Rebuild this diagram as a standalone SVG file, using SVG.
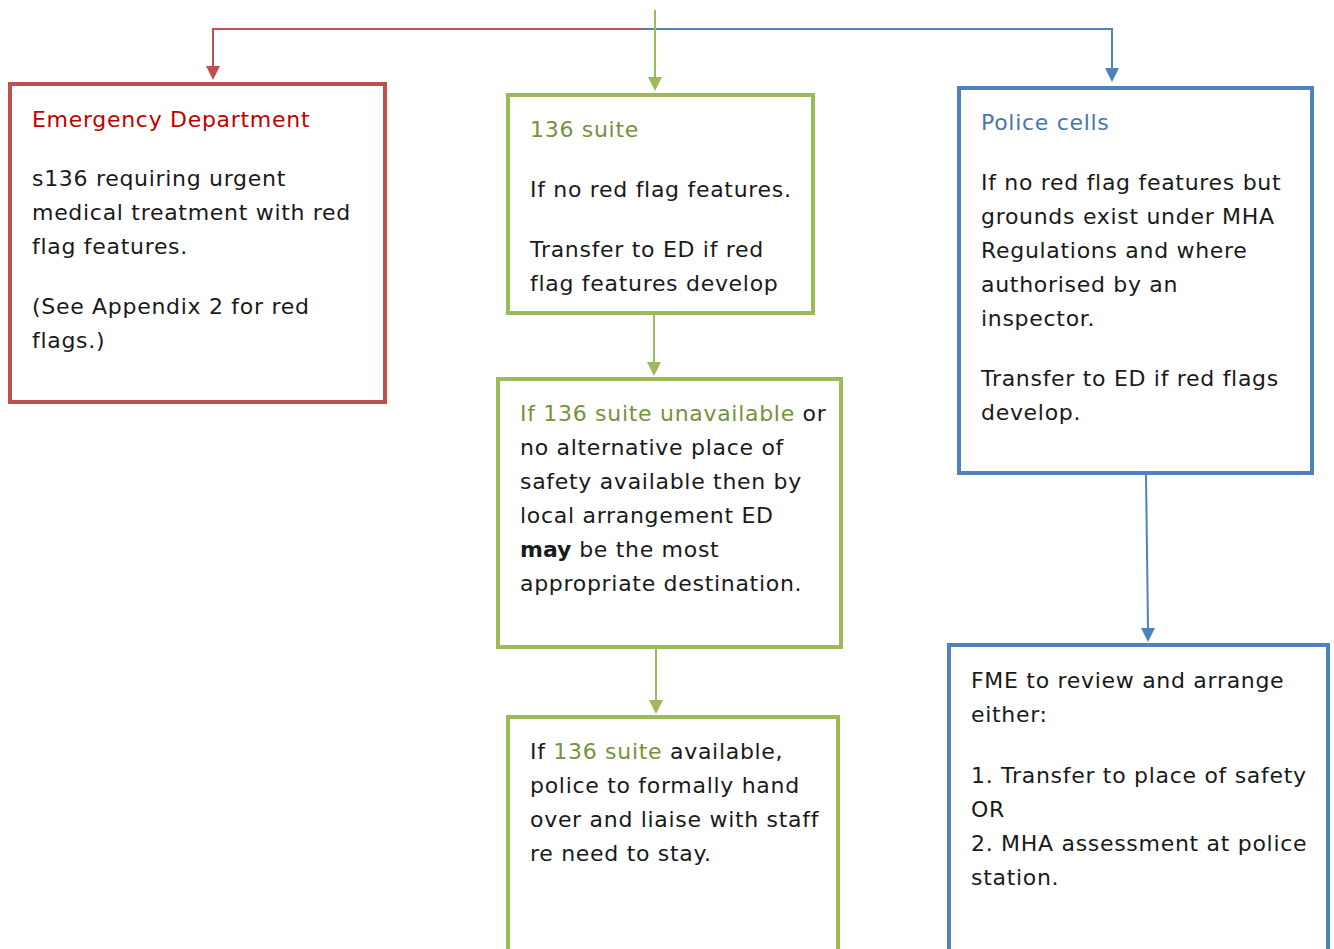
<svg xmlns="http://www.w3.org/2000/svg" width="1334" height="949" viewBox="0 0 1334 949">
<style>
.t{font-family:"DejaVu Sans","Liberation Sans",sans-serif;font-size:22px;letter-spacing:0.7px;fill:#1a1a1a}
.red{fill:#c00000}
.grn{fill:#76923c}
.blu{fill:#4a76b0}
.b{font-weight:bold;letter-spacing:0}
.box{fill:#fff;stroke-width:4}
</style>
<rect width="1334" height="949" fill="#fff"/>
<g id="connectors" fill="none" stroke-width="2">
<path d="M642,29 H213 V66" stroke="#c0504d"/>
<polygon points="206,66 220,66 213,80" fill="#c0504d" stroke="none"/>
<path d="M642,29 H1112 V68" stroke="#4f81bd"/>
<polygon points="1105,68 1119,68 1112,82" fill="#4f81bd" stroke="none"/>
<path d="M655,10 V78" stroke="#9bbb59"/>
<polygon points="648,77 662,77 655,91" fill="#9bbb59" stroke="none"/>
<path d="M654,313 V362" stroke="#9bbb59"/>
<polygon points="647,362 661,362 654,376" fill="#9bbb59" stroke="none"/>
<path d="M656,647 V700" stroke="#9bbb59"/>
<polygon points="649,700 663,700 656,714" fill="#9bbb59" stroke="none"/>
<path d="M1146,475 L1148,628" stroke="#4f81bd"/>
<polygon points="1141,628 1155,628 1148,642" fill="#4f81bd" stroke="none"/>
</g>
<g id="ed">
<rect class="box" x="10" y="84" width="375" height="318" stroke="#c0504d"/>
<text class="t red" x="32" y="127">Emergency Department</text>
<text class="t" x="32" y="186">s136 requiring urgent</text>
<text class="t" x="32" y="220">medical treatment with red</text>
<text class="t" x="32" y="254">flag features.</text>
<text class="t" x="32" y="314">(See Appendix 2 for red</text>
<text class="t" x="32" y="348">flags.)</text>
</g>
<g id="suite136">
<rect class="box" x="508" y="95" width="305" height="218" stroke="#9bbb59"/>
<text class="t grn" x="530" y="137">136 suite</text>
<text class="t" x="530" y="197">If no red flag features.</text>
<text class="t" x="530" y="257">Transfer to ED if red</text>
<text class="t" x="530" y="291">flag features develop</text>
</g>
<g id="unavailable">
<rect class="box" x="498" y="379" width="343" height="268" stroke="#9bbb59"/>
<text class="t" x="520" y="421"><tspan class="grn">If 136 suite unavailable</tspan> or</text>
<text class="t" x="520" y="455">no alternative place of</text>
<text class="t" x="520" y="489">safety available then by</text>
<text class="t" x="520" y="523">local arrangement ED</text>
<text class="t" x="520" y="557"><tspan class="b">may</tspan> be the most</text>
<text class="t" x="520" y="591">appropriate destination.</text>
</g>
<g id="available">
<rect class="box" x="508" y="717" width="330" height="240" stroke="#9bbb59"/>
<text class="t" x="530" y="759">If <tspan class="grn">136 suite</tspan> available,</text>
<text class="t" x="530" y="793">police to formally hand</text>
<text class="t" x="530" y="827">over and liaise with staff</text>
<text class="t" x="530" y="861">re need to stay.</text>
</g>
<g id="police">
<rect class="box" x="959" y="88" width="353" height="385" stroke="#4f81bd"/>
<text class="t blu" x="981" y="130">Police cells</text>
<text class="t" x="981" y="190">If no red flag features but</text>
<text class="t" x="981" y="224">grounds exist under MHA</text>
<text class="t" x="981" y="258">Regulations and where</text>
<text class="t" x="981" y="292">authorised by an</text>
<text class="t" x="981" y="326">inspector.</text>
<text class="t" x="981" y="386">Transfer to ED if red flags</text>
<text class="t" x="981" y="420">develop.</text>
</g>
<g id="fme">
<rect class="box" x="949" y="645" width="379" height="312" stroke="#4f81bd"/>
<text class="t" x="971" y="688">FME to review and arrange</text>
<text class="t" x="971" y="722">either:</text>
<text class="t" x="971" y="783">1. Transfer to place of safety</text>
<text class="t" x="971" y="817">OR</text>
<text class="t" x="971" y="851">2. MHA assessment at police</text>
<text class="t" x="971" y="885">station.</text>
</g>
</svg>
